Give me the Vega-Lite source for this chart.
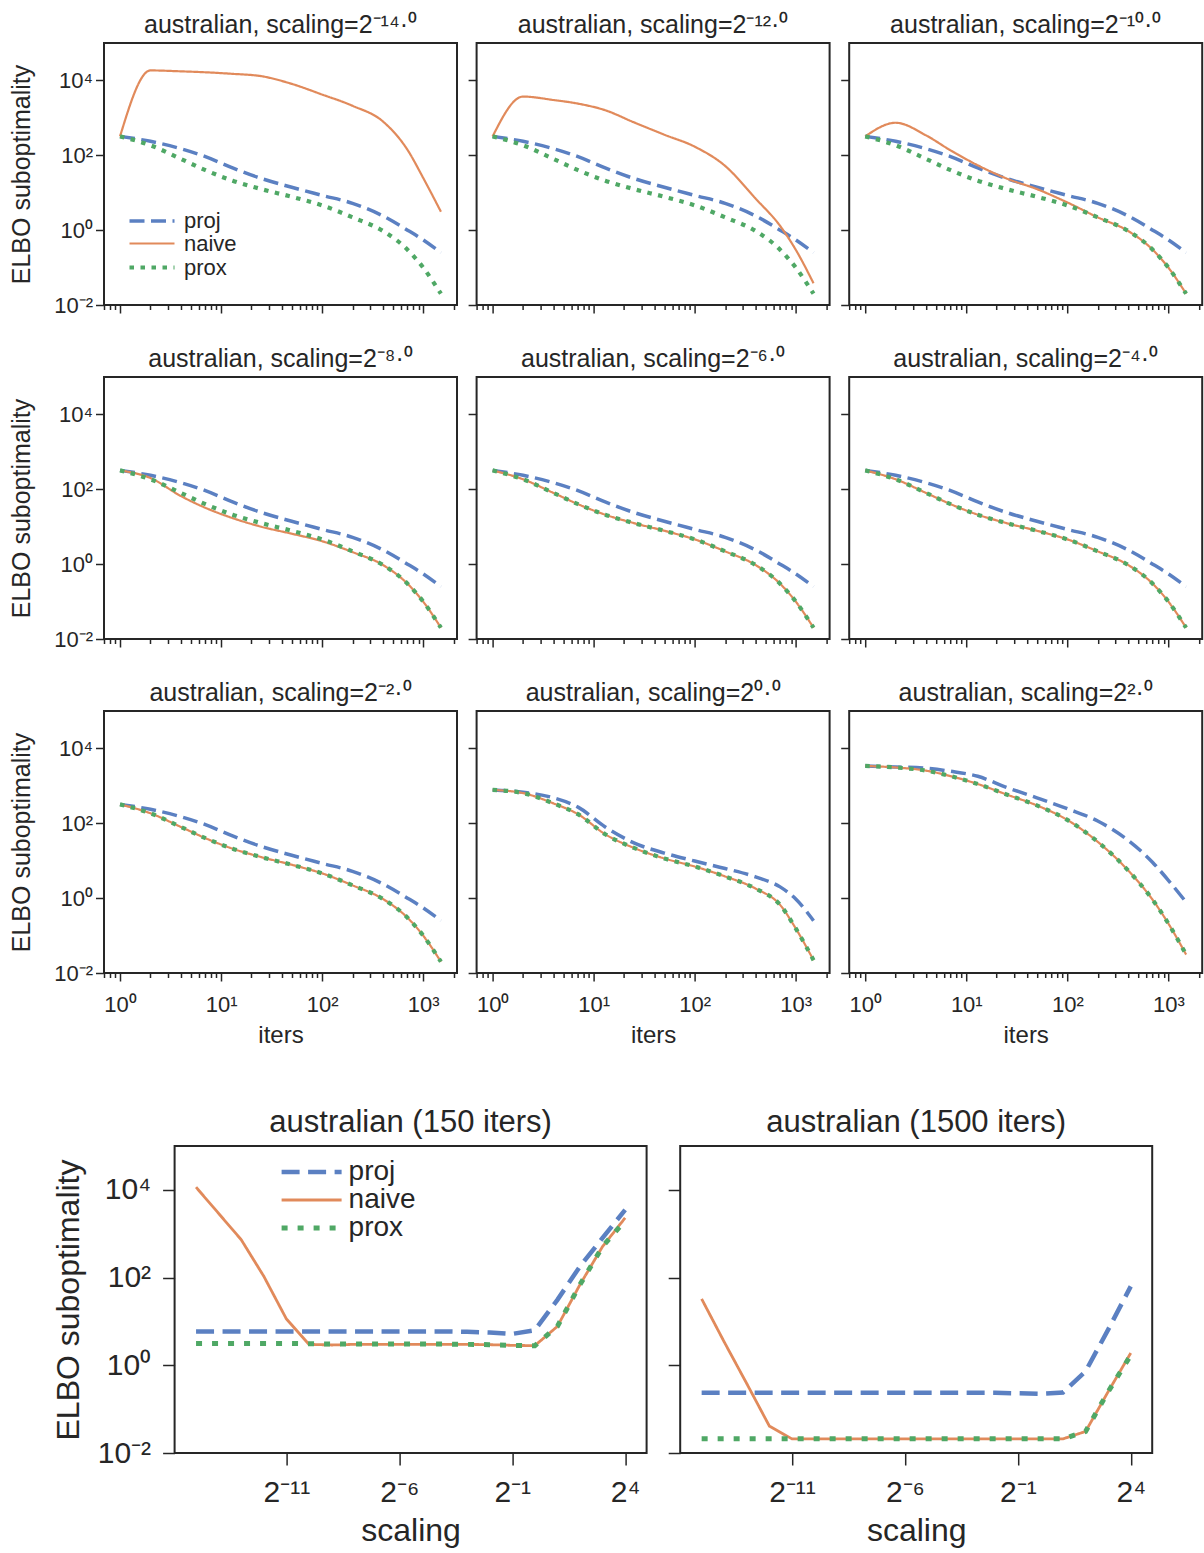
{
"$schema": "https://vega.github.io/schema/vega-lite/v6.json",
"padding": {"left": 8, "top": 12, "right": 2, "bottom": 4},
"background": "white",
"datasets": {
"small": [
{"s":-14,"i":1,"proj":320,"naive":320,"prox":320},
{"s":-14,"i":2,"proj":236,"naive":18500,"prox":185},
{"s":-14,"i":4,"proj":150,"naive":17500,"prox":80},
{"s":-14,"i":7,"proj":92,"naive":16500,"prox":40},
{"s":-14,"i":13,"proj":46,"naive":15000,"prox":21},
{"s":-14,"i":25,"proj":24,"naive":13000,"prox":12.5},
{"s":-14,"i":50,"proj":14,"naive":8100,"prox":7.8},
{"s":-14,"i":100,"proj":8.5,"naive":4200,"prox":4.6},
{"s":-14,"i":200,"proj":5.2,"naive":2100,"prox":2.2},
{"s":-14,"i":400,"proj":2.4,"naive":800,"prox":0.95},
{"s":-14,"i":700,"proj":1.0,"naive":140,"prox":0.3},
{"s":-14,"i":1000,"proj":0.55,"naive":25,"prox":0.1},
{"s":-14,"i":1500,"proj":0.25,"naive":3.1,"prox":0.02},
{"s":-12,"i":1,"proj":320,"naive":320,"prox":320},
{"s":-12,"i":2,"proj":236,"naive":3700,"prox":185},
{"s":-12,"i":4,"proj":150,"naive":3000,"prox":80},
{"s":-12,"i":7,"proj":92,"naive":2400,"prox":40},
{"s":-12,"i":13,"proj":46,"naive":1600,"prox":21},
{"s":-12,"i":25,"proj":24,"naive":760,"prox":12.5},
{"s":-12,"i":50,"proj":14,"naive":355,"prox":7.8},
{"s":-12,"i":100,"proj":8.5,"naive":170,"prox":4.6},
{"s":-12,"i":200,"proj":5.2,"naive":52,"prox":2.2},
{"s":-12,"i":400,"proj":2.4,"naive":7,"prox":0.95},
{"s":-12,"i":700,"proj":1.0,"naive":1.3,"prox":0.3},
{"s":-12,"i":1000,"proj":0.55,"naive":0.3,"prox":0.1},
{"s":-12,"i":1500,"proj":0.25,"naive":0.038,"prox":0.02},
{"s":-10,"i":1,"proj":320,"naive":320,"prox":320},
{"s":-10,"i":2,"proj":236,"naive":740,"prox":185},
{"s":-10,"i":4,"proj":150,"naive":340,"prox":80},
{"s":-10,"i":7,"proj":92,"naive":135,"prox":40},
{"s":-10,"i":13,"proj":46,"naive":54,"prox":21},
{"s":-10,"i":25,"proj":24,"naive":24,"prox":12.5},
{"s":-10,"i":50,"proj":14,"naive":12.5,"prox":7.8},
{"s":-10,"i":100,"proj":8.5,"naive":5.5,"prox":4.6},
{"s":-10,"i":200,"proj":5.2,"naive":2.2,"prox":2.2},
{"s":-10,"i":400,"proj":2.4,"naive":0.95,"prox":0.95},
{"s":-10,"i":700,"proj":1.0,"naive":0.3,"prox":0.3},
{"s":-10,"i":1000,"proj":0.55,"naive":0.1,"prox":0.1},
{"s":-10,"i":1500,"proj":0.25,"naive":0.02,"prox":0.02},
{"s":-8,"i":1,"proj":320,"naive":320,"prox":320},
{"s":-8,"i":2,"proj":236,"naive":200,"prox":185},
{"s":-8,"i":4,"proj":150,"naive":66,"prox":80},
{"s":-8,"i":7,"proj":92,"naive":32,"prox":40},
{"s":-8,"i":13,"proj":46,"naive":17,"prox":21},
{"s":-8,"i":25,"proj":24,"naive":10,"prox":12.5},
{"s":-8,"i":50,"proj":14,"naive":6.5,"prox":7.8},
{"s":-8,"i":100,"proj":8.5,"naive":4.1,"prox":4.6},
{"s":-8,"i":200,"proj":5.2,"naive":2.1,"prox":2.2},
{"s":-8,"i":400,"proj":2.4,"naive":0.95,"prox":0.95},
{"s":-8,"i":700,"proj":1.0,"naive":0.3,"prox":0.3},
{"s":-8,"i":1000,"proj":0.55,"naive":0.1,"prox":0.1},
{"s":-8,"i":1500,"proj":0.25,"naive":0.02,"prox":0.02},
{"s":-6,"i":1,"proj":320,"naive":320,"prox":320},
{"s":-6,"i":2,"proj":236,"naive":185,"prox":185},
{"s":-6,"i":4,"proj":150,"naive":80,"prox":80},
{"s":-6,"i":7,"proj":92,"naive":40,"prox":40},
{"s":-6,"i":13,"proj":46,"naive":21,"prox":21},
{"s":-6,"i":25,"proj":24,"naive":12.5,"prox":12.5},
{"s":-6,"i":50,"proj":14,"naive":7.8,"prox":7.8},
{"s":-6,"i":100,"proj":8.5,"naive":4.6,"prox":4.6},
{"s":-6,"i":200,"proj":5.2,"naive":2.2,"prox":2.2},
{"s":-6,"i":400,"proj":2.4,"naive":0.95,"prox":0.95},
{"s":-6,"i":700,"proj":1.0,"naive":0.3,"prox":0.3},
{"s":-6,"i":1000,"proj":0.55,"naive":0.1,"prox":0.1},
{"s":-6,"i":1500,"proj":0.25,"naive":0.02,"prox":0.02},
{"s":-4,"i":1,"proj":320,"naive":320,"prox":320},
{"s":-4,"i":2,"proj":236,"naive":185,"prox":185},
{"s":-4,"i":4,"proj":150,"naive":80,"prox":80},
{"s":-4,"i":7,"proj":92,"naive":40,"prox":40},
{"s":-4,"i":13,"proj":46,"naive":21,"prox":21},
{"s":-4,"i":25,"proj":24,"naive":12.5,"prox":12.5},
{"s":-4,"i":50,"proj":14,"naive":7.8,"prox":7.8},
{"s":-4,"i":100,"proj":8.5,"naive":4.6,"prox":4.6},
{"s":-4,"i":200,"proj":5.2,"naive":2.2,"prox":2.2},
{"s":-4,"i":400,"proj":2.4,"naive":0.95,"prox":0.95},
{"s":-4,"i":700,"proj":1.0,"naive":0.3,"prox":0.3},
{"s":-4,"i":1000,"proj":0.55,"naive":0.1,"prox":0.1},
{"s":-4,"i":1500,"proj":0.25,"naive":0.02,"prox":0.02},
{"s":-2,"i":1,"proj":320,"naive":320,"prox":320},
{"s":-2,"i":2,"proj":236,"naive":185,"prox":185},
{"s":-2,"i":4,"proj":150,"naive":80,"prox":80},
{"s":-2,"i":7,"proj":92,"naive":40,"prox":40},
{"s":-2,"i":13,"proj":46,"naive":21,"prox":21},
{"s":-2,"i":25,"proj":24,"naive":12.5,"prox":12.5},
{"s":-2,"i":50,"proj":14,"naive":7.8,"prox":7.8},
{"s":-2,"i":100,"proj":8.5,"naive":4.6,"prox":4.6},
{"s":-2,"i":200,"proj":5.2,"naive":2.2,"prox":2.2},
{"s":-2,"i":400,"proj":2.4,"naive":0.95,"prox":0.95},
{"s":-2,"i":700,"proj":1.0,"naive":0.3,"prox":0.3},
{"s":-2,"i":1000,"proj":0.55,"naive":0.1,"prox":0.1},
{"s":-2,"i":1500,"proj":0.25,"naive":0.02,"prox":0.02},
{"s":0,"i":1,"proj":780,"naive":780,"prox":780},
{"s":0,"i":2,"proj":680,"naive":640,"prox":640},
{"s":0,"i":4,"proj":480,"naive":340,"prox":340},
{"s":0,"i":7,"proj":270,"naive":175,"prox":175},
{"s":0,"i":13,"proj":80,"naive":51,"prox":51},
{"s":0,"i":25,"proj":30,"naive":22,"prox":22},
{"s":0,"i":50,"proj":16,"naive":11.5,"prox":11.5},
{"s":0,"i":100,"proj":9.8,"naive":7,"prox":7},
{"s":0,"i":200,"proj":6.2,"naive":3.8,"prox":3.8},
{"s":0,"i":400,"proj":3.7,"naive":1.8,"prox":1.8},
{"s":0,"i":700,"proj":2.0,"naive":0.66,"prox":0.66},
{"s":0,"i":1000,"proj":0.95,"naive":0.155,"prox":0.155},
{"s":0,"i":1500,"proj":0.25,"naive":0.022,"prox":0.022},
{"s":2,"i":1,"proj":3400,"naive":3400,"prox":3400},
{"s":2,"i":2,"proj":3200,"naive":3100,"prox":3100},
{"s":2,"i":4,"proj":2950,"naive":2550,"prox":2550},
{"s":2,"i":7,"proj":2450,"naive":1820,"prox":1820},
{"s":2,"i":13,"proj":1800,"naive":1120,"prox":1120},
{"s":2,"i":25,"proj":910,"naive":590,"prox":590},
{"s":2,"i":50,"proj":480,"naive":300,"prox":300},
{"s":2,"i":100,"proj":245,"naive":123,"prox":123},
{"s":2,"i":200,"proj":115,"naive":32,"prox":32},
{"s":2,"i":400,"proj":35,"naive":5.5,"prox":5.5},
{"s":2,"i":700,"proj":9,"naive":0.9,"prox":0.9},
{"s":2,"i":1000,"proj":3,"naive":0.21,"prox":0.21},
{"s":2,"i":1500,"proj":0.78,"naive":0.031,"prox":0.031}
],
"big": [
{"n":150,"sc":0.000030517578125,"proj":5.9,"naive":11500,"prox":3.15},
{"n":150,"sc":0.00006103515625,"proj":5.9,"naive":2900,"prox":3.15},
{"n":150,"sc":0.0001220703125,"proj":5.9,"naive":730,"prox":3.15},
{"n":150,"sc":0.000244140625,"proj":5.9,"naive":107,"prox":3.15},
{"n":150,"sc":0.00048828125,"proj":5.9,"naive":11.4,"prox":3.15},
{"n":150,"sc":0.0009765625,"proj":5.9,"naive":3.0,"prox":3.1},
{"n":150,"sc":0.001953125,"proj":5.9,"naive":2.9,"prox":3.05},
{"n":150,"sc":0.00390625,"proj":5.9,"naive":3.0,"prox":3.05},
{"n":150,"sc":0.0078125,"proj":5.9,"naive":3.0,"prox":3.05},
{"n":150,"sc":0.015625,"proj":5.9,"naive":3.0,"prox":3.05},
{"n":150,"sc":0.03125,"proj":5.9,"naive":3.0,"prox":3.05},
{"n":150,"sc":0.0625,"proj":5.9,"naive":3.0,"prox":3.05},
{"n":150,"sc":0.125,"proj":5.8,"naive":3.0,"prox":3.0},
{"n":150,"sc":0.25,"proj":5.6,"naive":2.95,"prox":2.95},
{"n":150,"sc":0.5,"proj":5.2,"naive":2.85,"prox":2.85},
{"n":150,"sc":1,"proj":6.3,"naive":2.8,"prox":2.8},
{"n":150,"sc":2,"proj":31,"naive":7.7,"prox":7.7},
{"n":150,"sc":4,"proj":180,"naive":69,"prox":69},
{"n":150,"sc":8,"proj":800,"naive":510,"prox":510},
{"n":150,"sc":16,"proj":3500,"naive":2300,"prox":2000},
{"n":1500,"sc":0.000030517578125,"proj":0.235,"naive":32.6,"prox":0.021},
{"n":1500,"sc":0.00006103515625,"proj":0.235,"naive":3.4,"prox":0.021},
{"n":1500,"sc":0.0001220703125,"proj":0.235,"naive":0.38,"prox":0.021},
{"n":1500,"sc":0.000244140625,"proj":0.235,"naive":0.041,"prox":0.021},
{"n":1500,"sc":0.00048828125,"proj":0.235,"naive":0.021,"prox":0.021},
{"n":1500,"sc":0.0009765625,"proj":0.235,"naive":0.021,"prox":0.021},
{"n":1500,"sc":0.001953125,"proj":0.235,"naive":0.021,"prox":0.021},
{"n":1500,"sc":0.00390625,"proj":0.235,"naive":0.021,"prox":0.021},
{"n":1500,"sc":0.0078125,"proj":0.235,"naive":0.021,"prox":0.021},
{"n":1500,"sc":0.015625,"proj":0.235,"naive":0.021,"prox":0.021},
{"n":1500,"sc":0.03125,"proj":0.235,"naive":0.021,"prox":0.021},
{"n":1500,"sc":0.0625,"proj":0.235,"naive":0.021,"prox":0.021},
{"n":1500,"sc":0.125,"proj":0.235,"naive":0.021,"prox":0.021},
{"n":1500,"sc":0.25,"proj":0.235,"naive":0.021,"prox":0.021},
{"n":1500,"sc":0.5,"proj":0.23,"naive":0.021,"prox":0.021},
{"n":1500,"sc":1,"proj":0.225,"naive":0.021,"prox":0.021},
{"n":1500,"sc":2,"proj":0.24,"naive":0.021,"prox":0.021},
{"n":1500,"sc":4,"proj":0.73,"naive":0.031,"prox":0.031},
{"n":1500,"sc":8,"proj":6.5,"naive":0.25,"prox":0.25},
{"n":1500,"sc":16,"proj":63,"naive":1.9,"prox":1.7}
]
},
"config": {
"font": "Liberation Sans",
"view": {"stroke": "#262626", "strokeWidth": 2},
"axis": {"grid": false, "domain": false, "tickColor": "#262626", "tickWidth": 1.5, "labelColor": "#262626", "titleColor": "#262626", "labelFont": "Liberation Sans", "titleFont": "Liberation Sans", "titleFontWeight": "normal", "labelOverlap": false, "labelFlush": false, "labelBound": false},
"title": {"fontWeight": "normal", "color": "#262626", "font": "Liberation Sans", "anchor": "middle"},
"legend": {"labelColor": "#262626", "labelFont": "Liberation Sans", "padding": 0},
"line": {"strokeCap": "butt", "interpolate": "monotone", "clip": true}
},
"spacing": 58,
"resolve": {"scale": {"x": "independent", "y": "independent", "color": "independent", "strokeDash": "independent", "strokeWidth": "independent"}, "legend": {"color": "independent", "strokeDash": "independent", "strokeWidth": "independent"}},
"vconcat": [
{
"columns": 3,
"bounds": "flush",
"spacing": {"row": 72, "column": 19.6},
"resolve": {"scale": {"x": "independent", "y": "independent", "color": "independent", "strokeDash": "independent", "strokeWidth": "independent"}, "legend": {"color": "independent", "strokeDash": "independent", "strokeWidth": "independent"}},
"concat": [
{"width": 353, "height": 262, "title": {"text": "australian, scaling=2⁻¹⁴·⁰", "fontSize": 25, "offset": 5},
 "data": {"name": "small"}, "transform": [{"filter": "datum.s == -14"}, {"fold": ["proj", "naive", "prox"], "as": ["m", "v"]}],
 "mark": {"type": "line"},
 "encoding": {
  "x": {"field": "i", "type": "quantitative", "scale": {"type": "log", "domain": [0.694, 2163]}, "axis": {"values": [0.7,0.8,0.9,1,2,3,4,5,6,7,8,9,10,20,30,40,50,60,70,80,90,100,200,300,400,500,600,700,800,900,1000,2000], "labels": false, "title": null, "tickSize": {"condition": {"test": "datum.value==1||datum.value==10||datum.value==100||datum.value==1000", "value": 8}, "value": 4.5}}},
  "y": {"field": "v", "type": "quantitative", "scale": {"type": "log", "domain": [0.01, 100000]}, "axis": {"values": [0.01, 1, 100, 10000], "labelExpr": "datum.value>=10000?'10⁴':datum.value>=100?'10²':datum.value>=1?'10⁰':'10⁻²'", "labelFontSize": 22, "labelPadding": 3, "tickSize": 8.5, "title": "ELBO suboptimality", "titleFontSize": 25, "titlePadding": 19}},
  "color": {"field": "m", "type": "nominal", "scale": {"domain": ["proj", "naive", "prox"], "range": ["#5b80c2", "#e18a5b", "#4fa865"]}, "legend": {"orient": "none", "legendX": 35.5, "legendY": 166, "title": null, "symbolType": "M-2.25,0H2.25", "symbolSize": 400, "symbolStrokeWidth": 4, "labelFontSize": 22, "labelOffset": 19.5, "rowPadding": -2}},
  "strokeDash": {"field": "m", "type": "nominal", "scale": {"domain": ["proj", "naive", "prox"], "range": [[15, 6.5], [1, 0], [4.5, 6.5]]}, "legend": {"orient": "none", "legendX": 35.5, "legendY": 166, "title": null, "symbolType": "M-2.25,0H2.25", "symbolSize": 400, "symbolStrokeWidth": 4, "labelFontSize": 22, "labelOffset": 19.5, "rowPadding": -2}},
  "strokeWidth": {"field": "m", "type": "nominal", "scale": {"type": "ordinal", "domain": ["proj", "naive", "prox"], "range": [3.5, 2.2, 4.2]}, "legend": null}
 }},
{"width": 353, "height": 262, "title": {"text": "australian, scaling=2⁻¹²·⁰", "fontSize": 25, "offset": 5},
 "data": {"name": "small"}, "transform": [{"filter": "datum.s == -12"}, {"fold": ["proj", "naive", "prox"], "as": ["m", "v"]}],
 "mark": {"type": "line"},
 "encoding": {
  "x": {"field": "i", "type": "quantitative", "scale": {"type": "log", "domain": [0.694, 2163]}, "axis": {"values": [0.7,0.8,0.9,1,2,3,4,5,6,7,8,9,10,20,30,40,50,60,70,80,90,100,200,300,400,500,600,700,800,900,1000,2000], "labels": false, "title": null, "tickSize": {"condition": {"test": "datum.value==1||datum.value==10||datum.value==100||datum.value==1000", "value": 8}, "value": 4.5}}},
  "y": {"field": "v", "type": "quantitative", "scale": {"type": "log", "domain": [0.01, 100000]}, "axis": {"values": [0.01, 1, 100, 10000], "labels": false, "tickSize": 8.5, "title": null}},
  "color": {"field": "m", "type": "nominal", "scale": {"domain": ["proj", "naive", "prox"], "range": ["#5b80c2", "#e18a5b", "#4fa865"]}, "legend": null},
  "strokeDash": {"field": "m", "type": "nominal", "scale": {"domain": ["proj", "naive", "prox"], "range": [[15, 6.5], [1, 0], [4.5, 6.5]]}, "legend": null},
  "strokeWidth": {"field": "m", "type": "nominal", "scale": {"type": "ordinal", "domain": ["proj", "naive", "prox"], "range": [3.5, 2.2, 4.2]}, "legend": null}
 }},
{"width": 353, "height": 262, "title": {"text": "australian, scaling=2⁻¹⁰·⁰", "fontSize": 25, "offset": 5},
 "data": {"name": "small"}, "transform": [{"filter": "datum.s == -10"}, {"fold": ["proj", "naive", "prox"], "as": ["m", "v"]}],
 "mark": {"type": "line"},
 "encoding": {
  "x": {"field": "i", "type": "quantitative", "scale": {"type": "log", "domain": [0.694, 2163]}, "axis": {"values": [0.7,0.8,0.9,1,2,3,4,5,6,7,8,9,10,20,30,40,50,60,70,80,90,100,200,300,400,500,600,700,800,900,1000,2000], "labels": false, "title": null, "tickSize": {"condition": {"test": "datum.value==1||datum.value==10||datum.value==100||datum.value==1000", "value": 8}, "value": 4.5}}},
  "y": {"field": "v", "type": "quantitative", "scale": {"type": "log", "domain": [0.01, 100000]}, "axis": {"values": [0.01, 1, 100, 10000], "labels": false, "tickSize": 8.5, "title": null}},
  "color": {"field": "m", "type": "nominal", "scale": {"domain": ["proj", "naive", "prox"], "range": ["#5b80c2", "#e18a5b", "#4fa865"]}, "legend": null},
  "strokeDash": {"field": "m", "type": "nominal", "scale": {"domain": ["proj", "naive", "prox"], "range": [[15, 6.5], [1, 0], [4.5, 6.5]]}, "legend": null},
  "strokeWidth": {"field": "m", "type": "nominal", "scale": {"type": "ordinal", "domain": ["proj", "naive", "prox"], "range": [3.5, 2.2, 4.2]}, "legend": null}
 }},
{"width": 353, "height": 262, "title": {"text": "australian, scaling=2⁻⁸·⁰", "fontSize": 25, "offset": 5},
 "data": {"name": "small"}, "transform": [{"filter": "datum.s == -8"}, {"fold": ["proj", "naive", "prox"], "as": ["m", "v"]}],
 "mark": {"type": "line"},
 "encoding": {
  "x": {"field": "i", "type": "quantitative", "scale": {"type": "log", "domain": [0.694, 2163]}, "axis": {"values": [0.7,0.8,0.9,1,2,3,4,5,6,7,8,9,10,20,30,40,50,60,70,80,90,100,200,300,400,500,600,700,800,900,1000,2000], "labels": false, "title": null, "tickSize": {"condition": {"test": "datum.value==1||datum.value==10||datum.value==100||datum.value==1000", "value": 8}, "value": 4.5}}},
  "y": {"field": "v", "type": "quantitative", "scale": {"type": "log", "domain": [0.01, 100000]}, "axis": {"values": [0.01, 1, 100, 10000], "labelExpr": "datum.value>=10000?'10⁴':datum.value>=100?'10²':datum.value>=1?'10⁰':'10⁻²'", "labelFontSize": 22, "labelPadding": 3, "tickSize": 8.5, "title": "ELBO suboptimality", "titleFontSize": 25, "titlePadding": 19}},
  "color": {"field": "m", "type": "nominal", "scale": {"domain": ["proj", "naive", "prox"], "range": ["#5b80c2", "#e18a5b", "#4fa865"]}, "legend": null},
  "strokeDash": {"field": "m", "type": "nominal", "scale": {"domain": ["proj", "naive", "prox"], "range": [[15, 6.5], [1, 0], [4.5, 6.5]]}, "legend": null},
  "strokeWidth": {"field": "m", "type": "nominal", "scale": {"type": "ordinal", "domain": ["proj", "naive", "prox"], "range": [3.5, 2.2, 4.2]}, "legend": null}
 }},
{"width": 353, "height": 262, "title": {"text": "australian, scaling=2⁻⁶·⁰", "fontSize": 25, "offset": 5},
 "data": {"name": "small"}, "transform": [{"filter": "datum.s == -6"}, {"fold": ["proj", "naive", "prox"], "as": ["m", "v"]}],
 "mark": {"type": "line"},
 "encoding": {
  "x": {"field": "i", "type": "quantitative", "scale": {"type": "log", "domain": [0.694, 2163]}, "axis": {"values": [0.7,0.8,0.9,1,2,3,4,5,6,7,8,9,10,20,30,40,50,60,70,80,90,100,200,300,400,500,600,700,800,900,1000,2000], "labels": false, "title": null, "tickSize": {"condition": {"test": "datum.value==1||datum.value==10||datum.value==100||datum.value==1000", "value": 8}, "value": 4.5}}},
  "y": {"field": "v", "type": "quantitative", "scale": {"type": "log", "domain": [0.01, 100000]}, "axis": {"values": [0.01, 1, 100, 10000], "labels": false, "tickSize": 8.5, "title": null}},
  "color": {"field": "m", "type": "nominal", "scale": {"domain": ["proj", "naive", "prox"], "range": ["#5b80c2", "#e18a5b", "#4fa865"]}, "legend": null},
  "strokeDash": {"field": "m", "type": "nominal", "scale": {"domain": ["proj", "naive", "prox"], "range": [[15, 6.5], [1, 0], [4.5, 6.5]]}, "legend": null},
  "strokeWidth": {"field": "m", "type": "nominal", "scale": {"type": "ordinal", "domain": ["proj", "naive", "prox"], "range": [3.5, 2.2, 4.2]}, "legend": null}
 }},
{"width": 353, "height": 262, "title": {"text": "australian, scaling=2⁻⁴·⁰", "fontSize": 25, "offset": 5},
 "data": {"name": "small"}, "transform": [{"filter": "datum.s == -4"}, {"fold": ["proj", "naive", "prox"], "as": ["m", "v"]}],
 "mark": {"type": "line"},
 "encoding": {
  "x": {"field": "i", "type": "quantitative", "scale": {"type": "log", "domain": [0.694, 2163]}, "axis": {"values": [0.7,0.8,0.9,1,2,3,4,5,6,7,8,9,10,20,30,40,50,60,70,80,90,100,200,300,400,500,600,700,800,900,1000,2000], "labels": false, "title": null, "tickSize": {"condition": {"test": "datum.value==1||datum.value==10||datum.value==100||datum.value==1000", "value": 8}, "value": 4.5}}},
  "y": {"field": "v", "type": "quantitative", "scale": {"type": "log", "domain": [0.01, 100000]}, "axis": {"values": [0.01, 1, 100, 10000], "labels": false, "tickSize": 8.5, "title": null}},
  "color": {"field": "m", "type": "nominal", "scale": {"domain": ["proj", "naive", "prox"], "range": ["#5b80c2", "#e18a5b", "#4fa865"]}, "legend": null},
  "strokeDash": {"field": "m", "type": "nominal", "scale": {"domain": ["proj", "naive", "prox"], "range": [[15, 6.5], [1, 0], [4.5, 6.5]]}, "legend": null},
  "strokeWidth": {"field": "m", "type": "nominal", "scale": {"type": "ordinal", "domain": ["proj", "naive", "prox"], "range": [3.5, 2.2, 4.2]}, "legend": null}
 }},
{"width": 353, "height": 262, "title": {"text": "australian, scaling=2⁻²·⁰", "fontSize": 25, "offset": 5},
 "data": {"name": "small"}, "transform": [{"filter": "datum.s == -2"}, {"fold": ["proj", "naive", "prox"], "as": ["m", "v"]}],
 "mark": {"type": "line"},
 "encoding": {
  "x": {"field": "i", "type": "quantitative", "scale": {"type": "log", "domain": [0.694, 2163]}, "axis": {"values": [0.7,0.8,0.9,1,2,3,4,5,6,7,8,9,10,20,30,40,50,60,70,80,90,100,200,300,400,500,600,700,800,900,1000,2000], "labelExpr": "datum.value==1?'10⁰':datum.value==10?'10¹':datum.value==100?'10²':datum.value==1000?'10³':''", "labelFontSize": 22, "labelPadding": 13, "title": "iters", "titleFontSize": 24, "titlePadding": 8, "tickSize": {"condition": {"test": "datum.value==1||datum.value==10||datum.value==100||datum.value==1000", "value": 8}, "value": 4.5}}},
  "y": {"field": "v", "type": "quantitative", "scale": {"type": "log", "domain": [0.01, 100000]}, "axis": {"values": [0.01, 1, 100, 10000], "labelExpr": "datum.value>=10000?'10⁴':datum.value>=100?'10²':datum.value>=1?'10⁰':'10⁻²'", "labelFontSize": 22, "labelPadding": 3, "tickSize": 8.5, "title": "ELBO suboptimality", "titleFontSize": 25, "titlePadding": 19}},
  "color": {"field": "m", "type": "nominal", "scale": {"domain": ["proj", "naive", "prox"], "range": ["#5b80c2", "#e18a5b", "#4fa865"]}, "legend": null},
  "strokeDash": {"field": "m", "type": "nominal", "scale": {"domain": ["proj", "naive", "prox"], "range": [[15, 6.5], [1, 0], [4.5, 6.5]]}, "legend": null},
  "strokeWidth": {"field": "m", "type": "nominal", "scale": {"type": "ordinal", "domain": ["proj", "naive", "prox"], "range": [3.5, 2.2, 4.2]}, "legend": null}
 }},
{"width": 353, "height": 262, "title": {"text": "australian, scaling=2⁰·⁰", "fontSize": 25, "offset": 5},
 "data": {"name": "small"}, "transform": [{"filter": "datum.s == 0"}, {"fold": ["proj", "naive", "prox"], "as": ["m", "v"]}],
 "mark": {"type": "line"},
 "encoding": {
  "x": {"field": "i", "type": "quantitative", "scale": {"type": "log", "domain": [0.694, 2163]}, "axis": {"values": [0.7,0.8,0.9,1,2,3,4,5,6,7,8,9,10,20,30,40,50,60,70,80,90,100,200,300,400,500,600,700,800,900,1000,2000], "labelExpr": "datum.value==1?'10⁰':datum.value==10?'10¹':datum.value==100?'10²':datum.value==1000?'10³':''", "labelFontSize": 22, "labelPadding": 13, "title": "iters", "titleFontSize": 24, "titlePadding": 8, "tickSize": {"condition": {"test": "datum.value==1||datum.value==10||datum.value==100||datum.value==1000", "value": 8}, "value": 4.5}}},
  "y": {"field": "v", "type": "quantitative", "scale": {"type": "log", "domain": [0.01, 100000]}, "axis": {"values": [0.01, 1, 100, 10000], "labels": false, "tickSize": 8.5, "title": null}},
  "color": {"field": "m", "type": "nominal", "scale": {"domain": ["proj", "naive", "prox"], "range": ["#5b80c2", "#e18a5b", "#4fa865"]}, "legend": null},
  "strokeDash": {"field": "m", "type": "nominal", "scale": {"domain": ["proj", "naive", "prox"], "range": [[15, 6.5], [1, 0], [4.5, 6.5]]}, "legend": null},
  "strokeWidth": {"field": "m", "type": "nominal", "scale": {"type": "ordinal", "domain": ["proj", "naive", "prox"], "range": [3.5, 2.2, 4.2]}, "legend": null}
 }},
{"width": 353, "height": 262, "title": {"text": "australian, scaling=2²·⁰", "fontSize": 25, "offset": 5},
 "data": {"name": "small"}, "transform": [{"filter": "datum.s == 2"}, {"fold": ["proj", "naive", "prox"], "as": ["m", "v"]}],
 "mark": {"type": "line"},
 "encoding": {
  "x": {"field": "i", "type": "quantitative", "scale": {"type": "log", "domain": [0.694, 2163]}, "axis": {"values": [0.7,0.8,0.9,1,2,3,4,5,6,7,8,9,10,20,30,40,50,60,70,80,90,100,200,300,400,500,600,700,800,900,1000,2000], "labelExpr": "datum.value==1?'10⁰':datum.value==10?'10¹':datum.value==100?'10²':datum.value==1000?'10³':''", "labelFontSize": 22, "labelPadding": 13, "title": "iters", "titleFontSize": 24, "titlePadding": 8, "tickSize": {"condition": {"test": "datum.value==1||datum.value==10||datum.value==100||datum.value==1000", "value": 8}, "value": 4.5}}},
  "y": {"field": "v", "type": "quantitative", "scale": {"type": "log", "domain": [0.01, 100000]}, "axis": {"values": [0.01, 1, 100, 10000], "labels": false, "tickSize": 8.5, "title": null}},
  "color": {"field": "m", "type": "nominal", "scale": {"domain": ["proj", "naive", "prox"], "range": ["#5b80c2", "#e18a5b", "#4fa865"]}, "legend": null},
  "strokeDash": {"field": "m", "type": "nominal", "scale": {"domain": ["proj", "naive", "prox"], "range": [[15, 6.5], [1, 0], [4.5, 6.5]]}, "legend": null},
  "strokeWidth": {"field": "m", "type": "nominal", "scale": {"type": "ordinal", "domain": ["proj", "naive", "prox"], "range": [3.5, 2.2, 4.2]}, "legend": null}
 }}
]},
{
"bounds": "flush",
"spacing": 33.6,
"resolve": {"scale": {"x": "independent", "y": "independent", "color": "independent", "strokeDash": "independent", "strokeWidth": "independent"}, "legend": {"color": "independent", "strokeDash": "independent", "strokeWidth": "independent"}},
"hconcat": [
{"width": 36.4, "height": 307, "data": {"values": []}, "mark": "point", "view": {"stroke": null}},
{"width": 472, "height": 307, "title": {"text": "australian (150 iters)", "fontSize": 31, "offset": 7},
 "data": {"name": "big"}, "transform": [{"filter": "datum.n == 150"}, {"fold": ["proj", "naive", "prox"], "as": ["m", "v"]}],
 "mark": {"type": "line", "interpolate": "linear"},
 "encoding": {
  "x": {"field": "sc", "type": "quantitative", "scale": {"type": "log", "base": 2, "domain": [0.0000158, 30.91]}, "axis": {"values": [0.00048828125, 0.015625, 0.5, 16], "labelExpr": "datum.value==16?'2⁴':datum.value==0.5?'2⁻¹':datum.value==0.015625?'2⁻⁶':'2⁻¹¹'", "labelFontSize": 30, "labelPadding": 12, "tickSize": 12, "title": "scaling", "titleFontSize": 32, "titlePadding": 8}},
  "y": {"field": "v", "type": "quantitative", "scale": {"type": "log", "domain": [0.01, 100000]}, "axis": {"values": [0.01, 1, 100, 10000], "labelExpr": "datum.value>=10000?'10⁴':datum.value>=100?'10²':datum.value>=1?'10⁰':'10⁻²'", "labelFontSize": 30, "labelPadding": 12, "tickSize": 12, "title": "ELBO suboptimality", "titleFontSize": 32, "titlePadding": 12}},
  "color": {"field": "m", "type": "nominal", "scale": {"domain": ["proj", "naive", "prox"], "range": ["#5b80c2", "#e18a5b", "#4fa865"]}, "legend": {"orient": "none", "legendX": 123, "legendY": 12, "title": null, "symbolType": "M-3,0H3", "symbolSize": 400, "symbolStrokeWidth": 5, "labelFontSize": 28, "labelOffset": 23, "rowPadding": 0}},
  "strokeDash": {"field": "m", "type": "nominal", "scale": {"domain": ["proj", "naive", "prox"], "range": [[18, 8.5], [1, 0], [6, 10]]}, "legend": {"orient": "none", "legendX": 123, "legendY": 12, "title": null, "symbolType": "M-3,0H3", "symbolSize": 400, "symbolStrokeWidth": 5, "labelFontSize": 28, "labelOffset": 23, "rowPadding": 0}},
  "strokeWidth": {"field": "m", "type": "nominal", "scale": {"type": "ordinal", "domain": ["proj", "naive", "prox"], "range": [4.5, 2.8, 5]}, "legend": null}
 }},
{"width": 472, "height": 307, "title": {"text": "australian (1500 iters)", "fontSize": 31, "offset": 7},
 "data": {"name": "big"}, "transform": [{"filter": "datum.n == 1500"}, {"fold": ["proj", "naive", "prox"], "as": ["m", "v"]}],
 "mark": {"type": "line", "interpolate": "linear"},
 "encoding": {
  "x": {"field": "sc", "type": "quantitative", "scale": {"type": "log", "base": 2, "domain": [0.0000158, 30.91]}, "axis": {"values": [0.00048828125, 0.015625, 0.5, 16], "labelExpr": "datum.value==16?'2⁴':datum.value==0.5?'2⁻¹':datum.value==0.015625?'2⁻⁶':'2⁻¹¹'", "labelFontSize": 30, "labelPadding": 12, "tickSize": 12, "title": "scaling", "titleFontSize": 32, "titlePadding": 8}},
  "y": {"field": "v", "type": "quantitative", "scale": {"type": "log", "domain": [0.01, 100000]}, "axis": {"values": [0.01, 1, 100, 10000], "labels": false, "tickSize": 12, "title": null}},
  "color": {"field": "m", "type": "nominal", "scale": {"domain": ["proj", "naive", "prox"], "range": ["#5b80c2", "#e18a5b", "#4fa865"]}, "legend": null},
  "strokeDash": {"field": "m", "type": "nominal", "scale": {"domain": ["proj", "naive", "prox"], "range": [[18, 8.5], [1, 0], [6, 10]]}, "legend": null},
  "strokeWidth": {"field": "m", "type": "nominal", "scale": {"type": "ordinal", "domain": ["proj", "naive", "prox"], "range": [4.5, 2.8, 5]}, "legend": null}
 }}
]}
]
}
